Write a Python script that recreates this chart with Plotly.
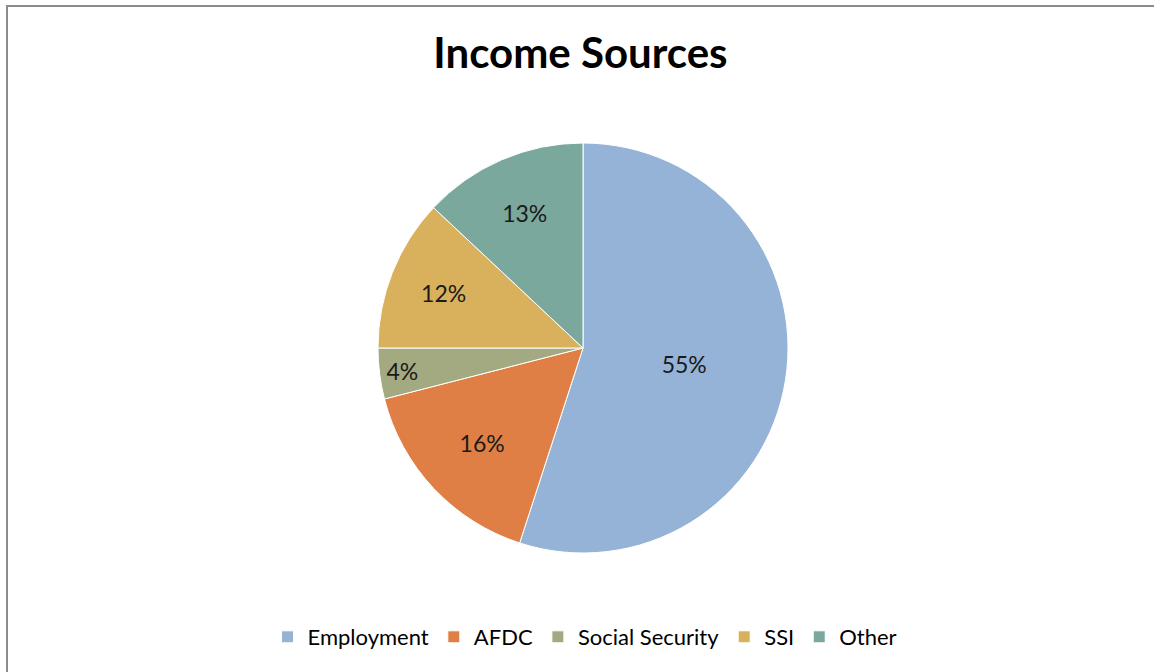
import plotly.graph_objects as go

# Share of household income by source
categories = ["Employment", "AFDC", "Social Security", "SSI", "Other"]
shares = [55, 16, 4, 12, 13]
colors = ["#95B3D7", "#E07F45", "#A3AA82", "#D9B05C", "#7AA89D"]

W, H = 1154, 672
ML, MR, MT, MB = 100, 88, 143, 119
pw, ph = W - ML - MR, H - MT - MB

def px_to_paper_x(px):
    return (px - ML) / pw

def px_to_paper_y(py):
    return (H - MB - py) / ph

fig = go.Figure(
    go.Pie(
        labels=categories,
        values=shares,
        sort=False,
        direction="clockwise",
        rotation=0,
        marker=dict(colors=colors, line=dict(color="white", width=1)),
        textinfo="percent",
        texttemplate="%{value}%",
        textposition="inside",
        insidetextorientation="horizontal",
        textfont=dict(family="Lato", size=23, color="#1a1a1a"),
        hoverinfo="label+percent",
    )
)

fig.update_layout(
    width=W,
    height=H,
    margin=dict(l=ML, r=MR, t=MT, b=MB),
    paper_bgcolor="white",
    plot_bgcolor="white",
    title=dict(
        text="<b>Income Sources</b>",
        x=0.503,
        xanchor="center",
        y=1 - 53 / H,
        yanchor="middle",
        font=dict(family="Lato", size=42, color="black"),
    ),
    showlegend=True,
    legend=dict(
        orientation="h",
        x=px_to_paper_x(585),
        xanchor="center",
        y=px_to_paper_y(637),
        yanchor="middle",
        font=dict(family="Lato", size=22, color="black"),
        itemwidth=30,
        traceorder="normal",
    ),
    shapes=[
        dict(
            type="rect",
            xref="paper",
            yref="paper",
            x0=px_to_paper_x(7),
            y0=-1.0,
            x1=1.5,
            y1=px_to_paper_y(6),
            line=dict(color="#8C8C8C", width=2),
            fillcolor="rgba(0,0,0,0)",
            layer="below",
        )
    ],
)

fig.write_html("out.html")
